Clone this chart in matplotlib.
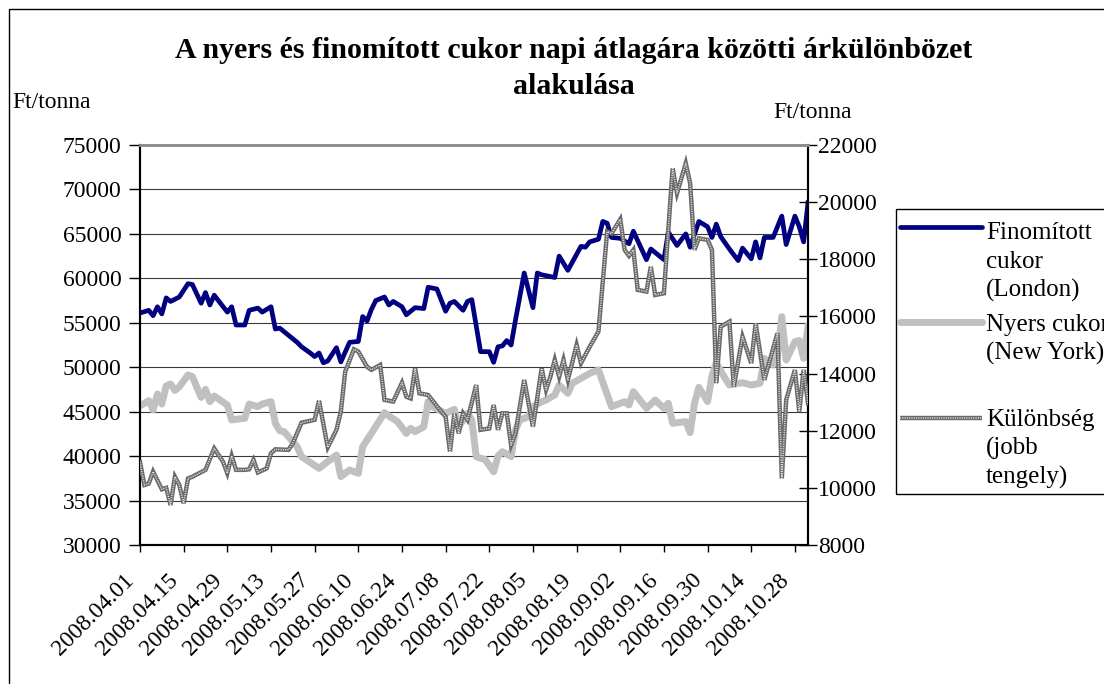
import numpy as np
import pandas as pd
import matplotlib
matplotlib.use('Agg')
import matplotlib.pyplot as plt
from matplotlib.lines import Line2D
from matplotlib.patches import Rectangle
from matplotlib.transforms import ScaledTranslation

plt.rcParams['font.family'] = ['Liberation Serif', 'DejaVu Serif']

# business days, 2008.04.01 - 2008.10.31
days = pd.bdate_range('2008-04-01', periods=154)
tick_pos = np.arange(0, 151, 10)
tick_labels = [d.strftime('%Y.%m.%d') for d in days[tick_pos]]

# Finomított cukor (London), Ft/tonna - day index, value
fin_idx = [0, 2, 3, 4, 5, 6, 7, 9, 11, 12, 14, 15, 16, 17, 20, 21, 22, 24, 25, 27,
           28, 30, 31, 32, 36, 37, 39, 40, 41, 42, 43, 45, 46, 48, 50, 51, 52, 53, 54, 56,
           57, 58, 60, 61, 63, 65, 66, 68, 70, 71, 72, 74, 75, 76, 78, 80, 81, 82, 83, 84,
           85, 86, 88, 90, 91, 92, 95, 96, 98, 101, 102, 103, 105, 106, 107, 108, 110, 112, 113, 116,
           117, 120, 121, 123, 125, 126, 128, 130, 131, 132, 133, 135, 137, 138, 140, 141, 142, 143, 145, 147,
           148, 150, 151, 152, 153]
fin_val = [56100, 56400, 55800, 56800, 56000, 57800, 57400, 57900, 59400, 59300, 57200, 58400, 57000, 58100, 56200, 56800, 54750, 54750, 56400, 56650,
           56200, 56800, 54300, 54400, 52800, 52300, 51600, 51200, 51600, 50500, 50700, 52200, 50600, 52800, 52900, 55700, 55200, 56500, 57500, 57900,
           57000, 57400, 56800, 55900, 56700, 56600, 59000, 58800, 56300, 57200, 57400, 56400, 57400, 57600, 51750, 51750, 50550, 52300, 52400, 53000,
           52500, 55300, 60600, 56700, 60600, 60400, 60100, 62500, 60900, 63600, 63500, 64100, 64400, 66400, 66200, 64600, 64500, 63900, 65300, 62100,
           63300, 62100, 65200, 63700, 65000, 63500, 66400, 65800, 64600, 66100, 64700, 63300, 62000, 63400, 62200, 64100, 62300, 64600, 64600, 67000,
           63800, 67000, 65800, 64100, 68500]

# Nyers cukor (New York), Ft/tonna
ny_idx = [0, 2, 3, 4, 5, 6, 7, 8, 9, 11, 12, 14, 15, 16, 17, 20, 21, 22, 24, 25,
          27, 28, 30, 31, 32, 33, 36, 37, 41, 43, 45, 46, 48, 50, 51, 52, 53, 56, 57, 59,
          61, 62, 63, 65, 66, 67, 70, 72, 73, 75, 76, 77, 78, 79, 81, 82, 83, 85, 86, 87,
          89, 90, 92, 93, 95, 96, 98, 99, 101, 103, 105, 108, 111, 112, 113, 116, 118, 120, 121, 122,
          125, 126, 127, 128, 130, 131, 132, 134, 135, 138, 140, 142, 143, 145, 146, 147, 148, 150, 151, 152,
          153]
ny_val = [45640, 46240, 45190, 46990, 45860, 47890, 48110, 47400, 47810, 49130, 48940, 46610, 47510, 46130, 46760, 45750, 44060, 44150, 44250, 45860,
          45560, 45860, 46130, 43690, 42860, 42750, 41060, 39940, 38630, 39380, 40120, 37690, 38440, 38060, 41060, 41810, 42560, 44890, 44510, 43880,
          42560, 43130, 42750, 43310, 46130, 45560, 44810, 45260, 43310, 44810, 44060, 39940, 39750, 39640, 38250, 40010, 40500, 39940, 42940, 44060,
          44440, 45560, 46130, 46310, 46880, 48000, 47060, 48190, 48750, 49310, 49690, 45560, 46130, 45750, 47250, 45380, 46310, 45380, 45940, 43690,
          43880, 42640, 45940, 47740, 46130, 49000, 50500, 48750, 48000, 48260, 48000, 48190, 51000, 50250, 51190, 55690, 50810, 52870, 53000, 51000,
          54560]

# Különbség (jobb tengely), Ft/tonna
kul_idx = [0, 1, 2, 3, 5, 6, 7, 8, 9, 10, 11, 12, 15, 17, 19, 20, 21, 22, 24, 25,
           26, 27, 29, 30, 31, 34, 35, 37, 40, 41, 43, 45, 46, 47, 49, 50, 52, 53, 55, 56,
           58, 60, 61, 62, 63, 64, 66, 69, 70, 71, 72, 73, 74, 75, 77, 78, 80, 81, 82, 83,
           84, 85, 86, 88, 90, 92, 93, 94, 95, 96, 97, 98, 100, 101, 103, 105, 107, 108, 110, 111,
           112, 113, 114, 116, 117, 118, 120, 121, 122, 123, 125, 126, 127, 128, 130, 131, 132, 133, 135, 136,
           138, 140, 141, 143, 146, 147, 148, 150, 151, 152, 153]
kul_val = [10900, 10100, 10150, 10570, 9950, 10000, 9400, 10390, 10100, 9460, 10330, 10390, 10630, 11380, 10920, 10510, 11120, 10630, 10630, 10650,
           10980, 10540, 10680, 11210, 11350, 11330, 11560, 12280, 12380, 13050, 11420, 12030, 12670, 14070, 14850, 14770, 14240, 14130, 14300, 13080,
           13020, 13680, 13190, 13130, 14180, 13310, 13250, 12670, 12490, 11270, 12600, 11910, 12610, 12380, 13600, 12030, 12080, 12900, 12030, 12610,
           12610, 11500, 11910, 13780, 12140, 14180, 13430, 13890, 14480, 13890, 14480, 13780, 15000, 14360, 14940, 15470, 18970, 18900, 19400, 18330,
           18120, 18330, 16930, 16870, 17740, 16750, 16810, 19030, 21180, 20310, 21360, 20660, 18330, 18730, 18680, 18330, 13660, 15640, 15820, 13540,
           15290, 14360, 15760, 13780, 15410, 10330, 13080, 14130, 12670, 14130, 12960]

W, H = 1104, 684
fig = plt.figure(figsize=(W / 100, H / 100), dpi=100)

def fx(x):
    return x / W

def fy(y):
    return 1 - y / H

ax = fig.add_axes([fx(140), fy(545), (808 - 140) / W, (545 - 145) / H])
ax2 = ax.twinx()

ax.plot(ny_idx, ny_val, color='#c0c0c0', lw=5, solid_joinstyle='round', zorder=3)
ax.plot(fin_idx, fin_val, color='#000080', lw=3.4, solid_joinstyle='round', zorder=4)
ax2.plot(kul_idx, kul_val, color='#6a6a6a', lw=3.2, solid_joinstyle='miter', zorder=5)
ax2.plot(kul_idx, kul_val, color='#e4e4e4', lw=1.1, ls=(0, (0.7, 0.8)), zorder=6)

ax.set_xlim(0, 153)
ax.set_ylim(30000, 75000)
ax2.set_ylim(8000, 22000)
ax.set_yticks(np.arange(30000, 75001, 5000))
ax2.set_yticks(np.arange(8000, 22001, 2000))
ax.yaxis.grid(True, color='#3a3a3a', lw=0.8)
ax.set_axisbelow(True)

# rotated date labels, end of text a little left of and below each tick
ax.set_xticks(tick_pos)
ax.tick_params(axis='x', direction='out', length=5, width=1, labelbottom=False)
lab_trans = ax.get_xaxis_transform() + ScaledTranslation(-0.09, -0.32, fig.dpi_scale_trans)
for p, t in zip(tick_pos, tick_labels):
    ax.text(p, 0, t, transform=lab_trans, rotation=45, rotation_mode='anchor',
            ha='right', va='center', fontsize=17, clip_on=False)

ax.tick_params(axis='y', direction='out', length=8, width=1, labelsize=17, pad=5.5)
ax2.tick_params(axis='y', direction='inout', length=13, width=1, labelsize=17, pad=1)

for a in (ax, ax2):
    for s in a.spines.values():
        s.set_linewidth(1.5)
        s.set_color('black')
    a.spines['top'].set_color('#909090')
    a.spines['top'].set_linewidth(2)

fig.text(fx(12), fy(108), 'Ft/tonna', fontsize=17, ha='left', va='baseline')
fig.text(fx(773), fy(118), 'Ft/tonna', fontsize=17, ha='left', va='baseline')

fig.text(fx(574), fy(58), 'A nyers és finomított cukor napi átlagára közötti árkülönbözet',
         fontsize=21.5, fontweight='bold', ha='center', va='baseline')
fig.text(fx(574), fy(94), 'alakulása', fontsize=21.5, fontweight='bold', ha='center', va='baseline')

# chart border
fig.add_artist(Rectangle((fx(9), fy(700)), fx(1120 - 9), (700 - 9) / H, transform=fig.transFigure,
                         fill=False, edgecolor='black', lw=1))

# legend
fig.add_artist(Rectangle((fx(896), fy(494)), fx(1130 - 896), (494 - 209) / H, transform=fig.transFigure,
                         fill=False, edgecolor='black', lw=1))
legend_items = [
    ('#000080', 3.4, None, 227, ['Finomított', 'cukor', '(London)'], 239),
    ('#c0c0c0', 5, None, 322, ['Nyers cukor', '(New York)'], 331),
    ('#6a6a6a', 3.2, True, 418, ['Különbség', '(jobb', 'tengely)'], 426),
]
for color, lw, hatch, ly, lines, base in legend_items:
    fig.add_artist(Line2D([fx(900), fx(982)], [fy(ly), fy(ly)], color=color, lw=lw,
                          transform=fig.transFigure, solid_capstyle='round' if not hatch else 'butt'))
    if hatch:
        fig.add_artist(Line2D([fx(900), fx(982)], [fy(ly), fy(ly)], color='#e4e4e4', lw=1.1,
                              ls=(0, (0.7, 0.8)), transform=fig.transFigure))
    for k, t in enumerate(lines):
        fig.text(fx(986), fy(base + 28.7 * k), t, fontsize=18, ha='left', va='baseline')

fig.savefig('out.png', dpi=100)
